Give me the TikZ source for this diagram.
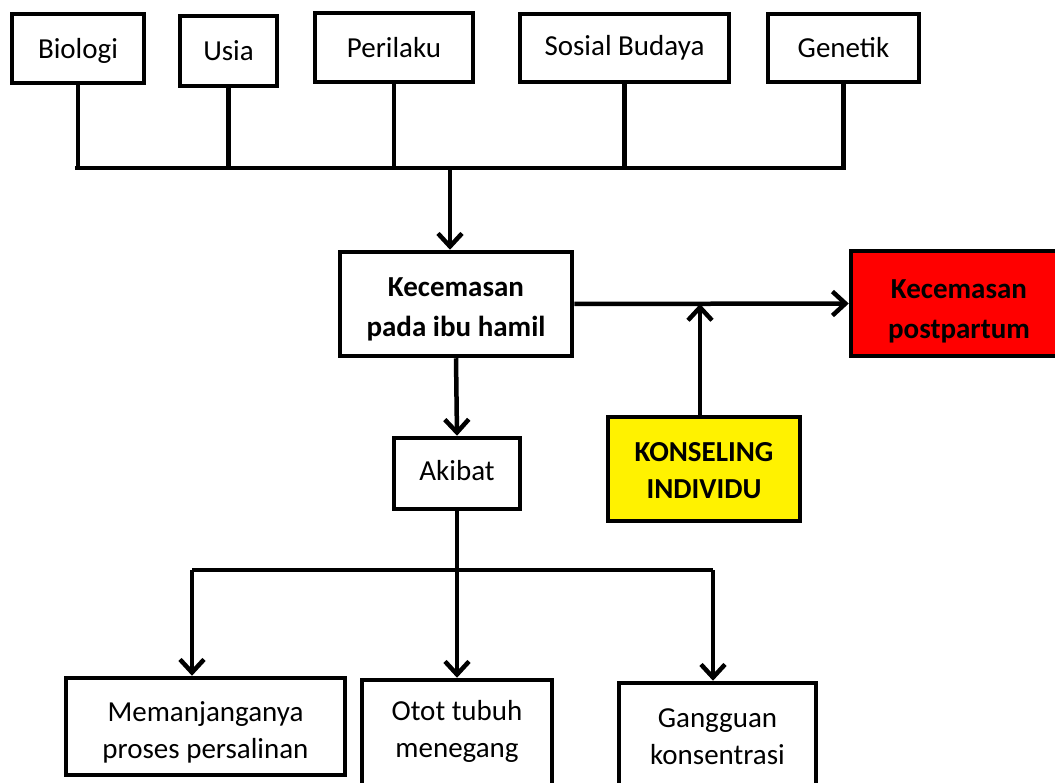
\documentclass[tikz,border=0pt]{standalone}
\usepackage{fontspec}
\setmainfont{Carlito}
\usepackage{tikz}
\usetikzlibrary{arrows.meta}
\usetikzlibrary{positioning}

\tikzset{
  box/.style={draw, line width=4.5pt, fill=white, align=center, inner sep=0pt,
    font=\fontsize{29}{37}\selectfont},
  boldbox/.style={box, font=\fontsize{29}{40}\selectfont\bfseries},
}
\newcommand{\up}[1]{\rule{0pt}{#1}}
\newcommand{\down}[1]{\rule[-#1]{0pt}{#1}}

\begin{document}
\begin{tikzpicture}[x=1pt,y=-1pt,line width=4.5pt,>={Straight Barb[length=13pt,width=24pt]}]
	\useasboundingbox (0,0) rectangle (1055,783);
	% faktor
	\node[box,minimum width=132pt,minimum height=69pt,text height=27pt,text depth=7pt] (bio) at (78,48.5) {Biologi};
	\node[box,minimum width=97pt,minimum height=70pt] (usia) at (228.5,51) {Usia};
	\node[box,minimum width=158pt,minimum height=69pt] (peri) at (394,47.5) {Perilaku};
	\node[box,minimum width=209pt,minimum height=68pt] (sosbud) at (624.5,48) {Sosial Budaya};
	\node[box,minimum width=151pt,minimum height=68pt] (gen) at (843.5,48) {Genetik};
	% tengah
	\node[boldbox,minimum width=232pt,minimum height=104pt] (cemas) at (456,304) {\up{29pt}Kecemasan\\pada ibu hamil};
	\node[boldbox,fill=red,minimum width=216pt,minimum height=105pt] (post) at (959,303.5) {\up{34pt}Kecemasan\\postpartum};
	\node[boldbox,fill=yellow,minimum width=192pt,minimum height=104pt,font=\fontsize{29}{37}\selectfont\bfseries] (konsel) at (704,469) {\up{23pt}KONSELING\\INDIVIDU};
	\node[box,minimum width=126pt,minimum height=71pt] (akibat) at (457,473.5) {Akibat\down{6pt}};
	% akibat
	\node[box,minimum width=279pt,minimum height=97pt] (lama) at (205.5,726.5) {\up{31pt}Memanjanganya\\proses persalinan};
	\node[box,minimum width=190pt,minimum height=112pt] (otot) at (457,736) {Otot tubuh\\menegang\down{15pt}};
	\node[box,minimum width=197pt,minimum height=108pt] (ganggu) at (717.5,737) {Gangguan\\konsentrasi};

	\coordinate (busA) at (75,168);
	\coordinate (busB) at (gen.south |- busA);
	\coordinate (busM) at (450,168);
	\coordinate (kup) at (700,417);
	\draw (bio.south) -- (bio.south |- busA);
	\draw (busA) -- (busB) -- (gen.south);
	\foreach \n in {usia,peri,sosbud}
		\draw (\n.south) -- (\n.south |- busA);
	\draw[->] (busM) -- (busM |- cemas.north);
	\draw[->] (cemas.east) -- (post.west);
	\draw[->] (kup) -- (kup |- cemas.east);
	\draw[->] (cemas.south) -- (akibat.north);

	\coordinate (forkL) at (192,570);
	\coordinate (forkR) at (713,570);
	\draw (forkL) -- (forkR);
	\draw[->] (akibat.south) -- (otot.north);
	\draw[->] (forkL) -- (forkL |- lama.north);
	\draw[->] (forkR) -- (forkR |- ganggu.north);
\end{tikzpicture}
\end{document}
